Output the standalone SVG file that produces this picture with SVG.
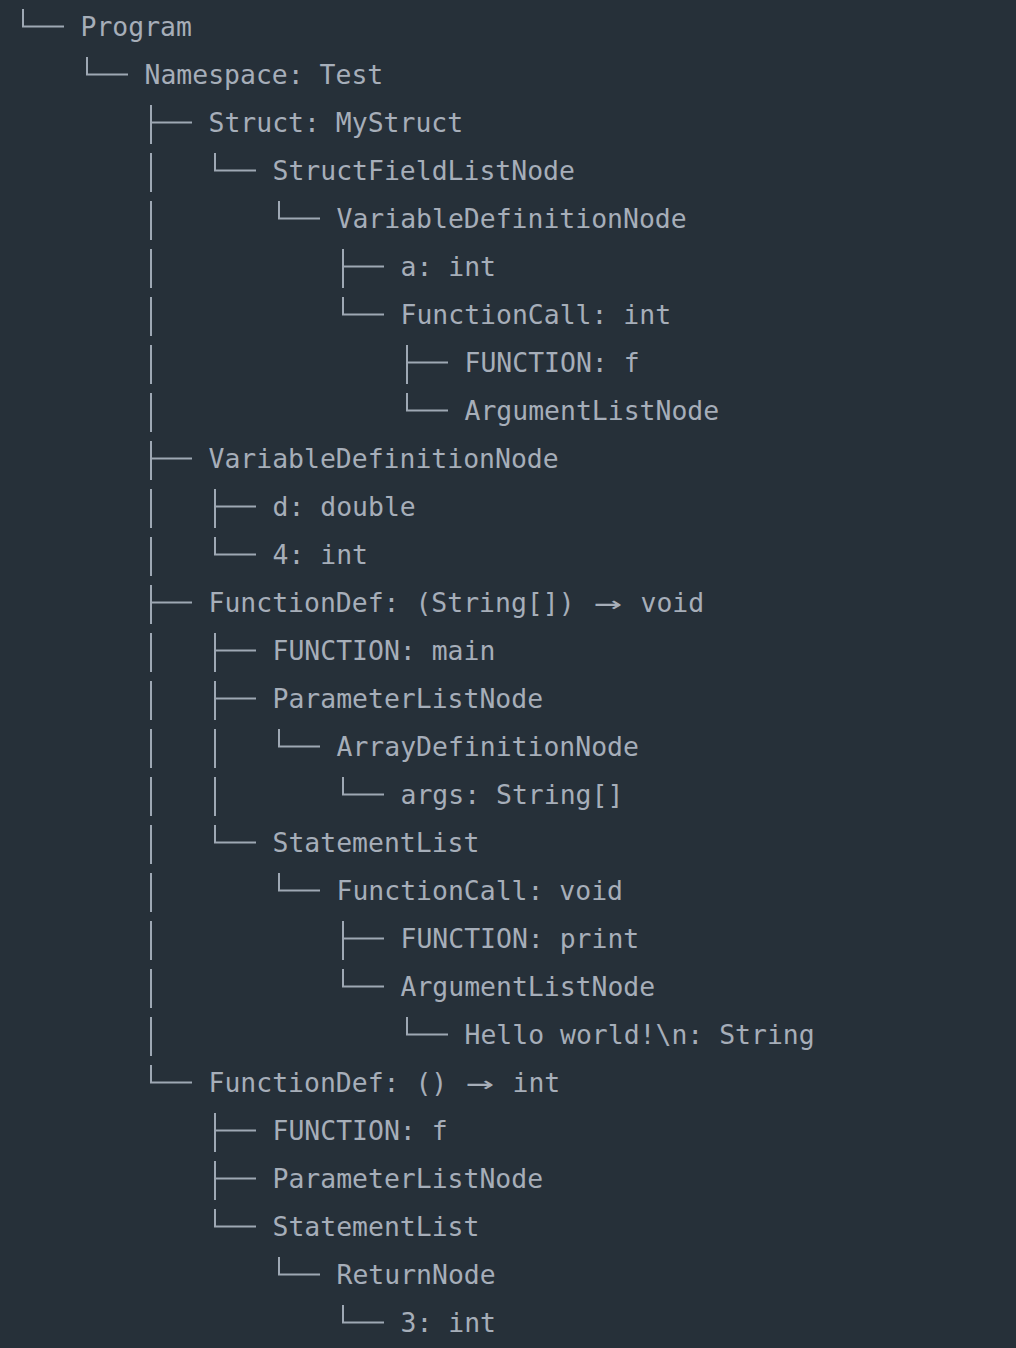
<svg xmlns="http://www.w3.org/2000/svg" width="1016" height="1348" viewBox="0 0 1016 1348">
<style>
.t{font-family:"DejaVu Sans Mono","Liberation Mono",monospace;font-size:26.45px;fill:#a6aeb9}
.c{fill:none;stroke:#9ea8b4;stroke-width:2}
</style>
<rect width="1016" height="1348" fill="#263039"/>
<g id="connectors" class="c">
<path d="M23 9V26.5H64"/>
<path d="M87 57V74.5H128"/>
<path d="M151 105V144M151 122.5H192"/>
<path d="M215 153V170.5H256M151 153V192"/>
<path d="M279 201V218.5H320M151 201V240"/>
<path d="M343 249V288M343 266.5H384M151 249V288"/>
<path d="M343 297V314.5H384M151 297V336"/>
<path d="M407 345V384M407 362.5H448M151 345V384"/>
<path d="M407 393V410.5H448M151 393V432"/>
<path d="M151 441V480M151 458.5H192"/>
<path d="M215 489V528M215 506.5H256M151 489V528"/>
<path d="M215 537V554.5H256M151 537V576"/>
<path d="M151 585V624M151 602.5H192"/>
<path d="M215 633V672M215 650.5H256M151 633V672"/>
<path d="M215 681V720M215 698.5H256M151 681V720"/>
<path d="M279 729V746.5H320M151 729V768M215 729V768"/>
<path d="M343 777V794.5H384M151 777V816M215 777V816"/>
<path d="M215 825V842.5H256M151 825V864"/>
<path d="M279 873V890.5H320M151 873V912"/>
<path d="M343 921V960M343 938.5H384M151 921V960"/>
<path d="M343 969V986.5H384M151 969V1008"/>
<path d="M407 1017V1034.5H448M151 1017V1056"/>
<path d="M151 1065V1082.5H192"/>
<path d="M215 1113V1152M215 1130.5H256"/>
<path d="M215 1161V1200M215 1178.5H256"/>
<path d="M215 1209V1226.5H256"/>
<path d="M279 1257V1274.5H320"/>
<path d="M343 1305V1322.5H384"/>
</g>
<g id="n0"><text class="t" x="80.5" y="36">Program</text></g>
<g id="n1"><text class="t" x="144.5" y="84">Namespace: Test</text></g>
<g id="n2"><text class="t" x="208.5" y="132">Struct: MyStruct</text></g>
<g id="n3"><text class="t" x="272.5" y="180">StructFieldListNode</text></g>
<g id="n4"><text class="t" x="336.5" y="228">VariableDefinitionNode</text></g>
<g id="n5"><text class="t" x="400.5" y="276">a: int</text></g>
<g id="n6"><text class="t" x="400.5" y="324">FunctionCall: int</text></g>
<g id="n7"><text class="t" x="464.5" y="372">FUNCTION: f</text></g>
<g id="n8"><text class="t" x="464.5" y="420">ArgumentListNode</text></g>
<g id="n9"><text class="t" x="208.5" y="468">VariableDefinitionNode</text></g>
<g id="n10"><text class="t" x="272.5" y="516">d: double</text></g>
<g id="n11"><text class="t" x="272.5" y="564">4: int</text></g>
<g id="n12"><text class="t" x="208.5" y="612">FunctionDef: (String[])</text><text class="t" x="594" y="612" textLength="28" lengthAdjust="spacingAndGlyphs">→</text><text class="t" x="640.5" y="612">void</text></g>
<g id="n13"><text class="t" x="272.5" y="660">FUNCTION: main</text></g>
<g id="n14"><text class="t" x="272.5" y="708">ParameterListNode</text></g>
<g id="n15"><text class="t" x="336.5" y="756">ArrayDefinitionNode</text></g>
<g id="n16"><text class="t" x="400.5" y="804">args: String[]</text></g>
<g id="n17"><text class="t" x="272.5" y="852">StatementList</text></g>
<g id="n18"><text class="t" x="336.5" y="900">FunctionCall: void</text></g>
<g id="n19"><text class="t" x="400.5" y="948">FUNCTION: print</text></g>
<g id="n20"><text class="t" x="400.5" y="996">ArgumentListNode</text></g>
<g id="n21"><text class="t" x="464.5" y="1044">Hello world!\n: String</text></g>
<g id="n22"><text class="t" x="208.5" y="1092">FunctionDef: ()</text><text class="t" x="466" y="1092" textLength="28" lengthAdjust="spacingAndGlyphs">→</text><text class="t" x="512.5" y="1092">int</text></g>
<g id="n23"><text class="t" x="272.5" y="1140">FUNCTION: f</text></g>
<g id="n24"><text class="t" x="272.5" y="1188">ParameterListNode</text></g>
<g id="n25"><text class="t" x="272.5" y="1236">StatementList</text></g>
<g id="n26"><text class="t" x="336.5" y="1284">ReturnNode</text></g>
<g id="n27"><text class="t" x="400.5" y="1332">3: int</text></g>
</svg>
